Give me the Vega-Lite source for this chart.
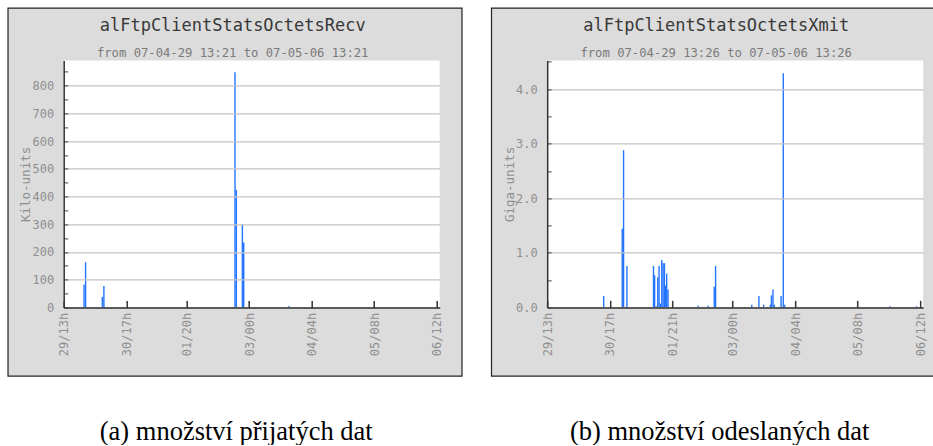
{
  "$schema": "https://vega.github.io/schema/vega-lite/v6.json",
  "background": "white",
  "padding": {"left": 6.7, "top": 7.4, "right": 0, "bottom": 0},
  "spacing": 27.5,
  "config": {"view": {"stroke": null}},
  "datasets": {
    "recv": [
      {"t": "2007-04-29T22:06:00Z", "v": 83},
      {"t": "2007-04-29T22:48:00Z", "v": 163},
      {"t": "2007-04-30T06:18:00Z", "v": 38},
      {"t": "2007-04-30T07:00:00Z", "v": 77},
      {"t": "2007-05-02T17:42:00Z", "v": 848},
      {"t": "2007-05-02T18:18:00Z", "v": 424},
      {"t": "2007-05-02T21:00:00Z", "v": 300},
      {"t": "2007-05-02T21:36:00Z", "v": 234},
      {"t": "2007-05-03T17:54:00Z", "v": 5}
    ],
    "xmit": [
      {"t": "2007-04-30T14:18:00Z", "v": 0.21},
      {"t": "2007-04-30T22:36:00Z", "v": 1.44},
      {"t": "2007-04-30T23:12:00Z", "v": 2.88},
      {"t": "2007-05-01T00:42:00Z", "v": 0.76},
      {"t": "2007-05-01T12:36:00Z", "v": 0.76},
      {"t": "2007-05-01T13:06:00Z", "v": 0.59},
      {"t": "2007-05-01T13:48:00Z", "v": 0.02},
      {"t": "2007-05-01T14:30:00Z", "v": 0.55},
      {"t": "2007-05-01T15:06:00Z", "v": 0.76},
      {"t": "2007-05-01T15:42:00Z", "v": 0.07},
      {"t": "2007-05-01T16:18:00Z", "v": 0.87},
      {"t": "2007-05-01T16:54:00Z", "v": 0.81},
      {"t": "2007-05-01T17:30:00Z", "v": 0.81},
      {"t": "2007-05-01T17:54:00Z", "v": 0.40},
      {"t": "2007-05-01T18:30:00Z", "v": 0.62},
      {"t": "2007-05-01T19:06:00Z", "v": 0.33},
      {"t": "2007-05-02T08:36:00Z", "v": 0.03},
      {"t": "2007-05-02T13:06:00Z", "v": 0.03},
      {"t": "2007-05-02T15:48:00Z", "v": 0.38},
      {"t": "2007-05-02T16:24:00Z", "v": 0.76},
      {"t": "2007-05-03T08:36:00Z", "v": 0.05},
      {"t": "2007-05-03T11:48:00Z", "v": 0.21},
      {"t": "2007-05-03T13:54:00Z", "v": 0.05},
      {"t": "2007-05-03T16:54:00Z", "v": 0.05},
      {"t": "2007-05-03T17:24:00Z", "v": 0.22},
      {"t": "2007-05-03T18:06:00Z", "v": 0.33},
      {"t": "2007-05-03T18:42:00Z", "v": 0.05},
      {"t": "2007-05-03T21:42:00Z", "v": 0.21},
      {"t": "2007-05-03T22:42:00Z", "v": 4.29},
      {"t": "2007-05-03T23:18:00Z", "v": 0.05},
      {"t": "2007-05-05T22:24:00Z", "v": 0.02},
      {"t": "2007-05-06T10:24:00Z", "v": 0.02}
    ]
  },
  "hconcat": [
    {
      "width": 376,
      "height": 247,
      "title": {
        "text": "alFtpClientStatsOctetsRecv",
        "subtitle": "from 07-04-29 13:21 to 07-05-06 13:21",
        "anchor": "middle", "frame": "group", "dx": -19, "offset": -52.7,
        "font": "DejaVu Sans Mono", "fontSize": 17, "fontWeight": "normal", "color": "#383838",
        "subtitleFont": "DejaVu Sans Mono", "subtitleFontSize": 12.2, "subtitleColor": "#7a7a7a",
        "subtitlePadding": 12, "zindex": 1
      },
      "layer": [
        {
          "data": {"values": [{}]},
          "mark": {"type": "rect", "fill": "#dcdcdc", "stroke": "#222222", "strokeWidth": 1.2},
          "encoding": {
            "x": {"datum": {"year": 2007, "month": 4, "date": 28, "hours": 12, "minutes": 4, "utc": true}, "type": "temporal", "scale": {"type": "utc"}},
            "x2": {"datum": {"year": 2007, "month": 5, "date": 6, "hours": 23, "minutes": 20, "utc": true}},
            "y": {"datum": -247.8, "type": "quantitative"},
            "y2": {"datum": 1079.7}
          }
        },
        {
          "data": {"values": [{}]},
          "mark": {"type": "rect", "fill": "white"},
          "encoding": {
            "x": {"datum": {"year": 2007, "month": 4, "date": 29, "hours": 13, "utc": true}, "type": "temporal", "scale": {"type": "utc"}},
            "x2": {"datum": {"year": 2007, "month": 5, "date": 6, "hours": 13, "minutes": 21, "utc": true}},
            "y": {"datum": 0, "type": "quantitative"},
            "y2": {"datum": 891}
          }
        },
        {
          "data": {"name": "recv"},
          "mark": {"type": "rule", "color": "#2474ff", "strokeWidth": 1.4},
          "encoding": {
            "x": {
              "field": "t", "type": "temporal",
              "scale": {"type": "utc", "domain": [
                {"year": 2007, "month": 4, "date": 29, "hours": 13, "utc": true},
                {"year": 2007, "month": 5, "date": 6, "hours": 13, "minutes": 21, "utc": true}
              ]},
              "axis": {
                "values": [
                  {"year": 2007, "month": 4, "date": 29, "hours": 13, "utc": true},
                  {"year": 2007, "month": 4, "date": 30, "hours": 17, "utc": true},
                  {"year": 2007, "month": 5, "date": 1, "hours": 20, "utc": true},
                  {"year": 2007, "month": 5, "date": 3, "hours": 0, "utc": true},
                  {"year": 2007, "month": 5, "date": 4, "hours": 4, "utc": true},
                  {"year": 2007, "month": 5, "date": 5, "hours": 8, "utc": true},
                  {"year": 2007, "month": 5, "date": 6, "hours": 12, "utc": true}
                ],
                "tickCount": 100,
                "labelExpr": "utcFormat(datum.value, '%d/%Hh')",
                "labelAngle": -90, "labelFlush": false, "labelOverlap": false,
                "labelFont": "DejaVu Sans Mono", "labelFontSize": 12, "labelColor": "#8f8f8f", "labelPadding": 12,
                "tickSize": -7, "tickColor": "#333333", "tickWidth": 1.5,
                "domainColor": "#333333", "domainWidth": 1.5, "grid": false,
                "title": "(a) množství přijatých dat",
                "titleFont": "Liberation Serif", "titleFontSize": 26.5, "titleFontWeight": "normal", "titleColor": "#000000",
                "titleX": 172, "titleY": 132, "titleBaseline": "alphabetic", "titleAlign": "center", "titleAngle": 0,
                "zindex": 1
              }
            },
            "y": {
              "field": "v", "type": "quantitative",
              "scale": {"domain": [0, 891], "nice": false, "zero": true},
              "axis": {
                "values": [0, 50, 100, 150, 200, 250, 300, 350, 400, 450, 500, 550, 600, 650, 700, 750, 800, 850],
                "tickCount": 100,
                "format": "d",
                "labelExpr": "datum.value % 100 === 0 ? datum.label : ''",
                "labelOverlap": false,
                "labelFont": "DejaVu Sans Mono", "labelFontSize": 12, "labelColor": "#8f8f8f", "labelPadding": 14,
                "tickSize": -4, "tickColor": "#444444", "tickWidth": 1,
                "domainColor": "#333333", "domainWidth": 1.5,
                "grid": true, "gridColor": "#c4c4c4", "gridWidth": 1.3,
                "gridOpacity": {"condition": {"test": "datum.value % 100 === 0", "value": 1}, "value": 0},
                "title": "Kilo-units",
                "titleFont": "DejaVu Sans Mono", "titleFontSize": 12.5, "titleFontWeight": "normal", "titleColor": "#8f8f8f",
                "titleX": -38, "titleY": 123.5, "titleAngle": -90, "titleAlign": "center", "titleBaseline": "middle",
                "zindex": 1
              }
            },
            "y2": {"datum": 0}
          }
        }
      ]
    },
    {
      "width": 376,
      "height": 247,
      "title": {
        "text": "alFtpClientStatsOctetsXmit",
        "subtitle": "from 07-04-29 13:26 to 07-05-06 13:26",
        "anchor": "middle", "frame": "group", "dx": -19, "offset": -52.7,
        "font": "DejaVu Sans Mono", "fontSize": 17, "fontWeight": "normal", "color": "#383838",
        "subtitleFont": "DejaVu Sans Mono", "subtitleFontSize": 12.2, "subtitleColor": "#7a7a7a",
        "subtitlePadding": 12, "zindex": 1
      },
      "layer": [
        {
          "data": {"values": [{}]},
          "mark": {"type": "rect", "fill": "#dcdcdc", "stroke": "#222222", "strokeWidth": 1.2},
          "encoding": {
            "x": {"datum": {"year": 2007, "month": 4, "date": 28, "hours": 12, "minutes": 4, "utc": true}, "type": "temporal", "scale": {"type": "utc"}},
            "x2": {"datum": {"year": 2007, "month": 5, "date": 6, "hours": 18, "minutes": 38, "utc": true}},
            "y": {"datum": -1.2586, "type": "quantitative"},
            "y2": {"datum": 5.483}
          }
        },
        {
          "data": {"values": [{}]},
          "mark": {"type": "rect", "fill": "white"},
          "encoding": {
            "x": {"datum": {"year": 2007, "month": 4, "date": 29, "hours": 13, "utc": true}, "type": "temporal", "scale": {"type": "utc"}},
            "x2": {"datum": {"year": 2007, "month": 5, "date": 6, "hours": 13, "minutes": 21, "utc": true}},
            "y": {"datum": 0, "type": "quantitative"},
            "y2": {"datum": 4.525}
          }
        },
        {
          "data": {"name": "xmit"},
          "mark": {"type": "rule", "color": "#2474ff", "strokeWidth": 1.4},
          "encoding": {
            "x": {
              "field": "t", "type": "temporal",
              "scale": {"type": "utc", "domain": [
                {"year": 2007, "month": 4, "date": 29, "hours": 13, "utc": true},
                {"year": 2007, "month": 5, "date": 6, "hours": 13, "minutes": 21, "utc": true}
              ]},
              "axis": {
                "values": [
                  {"year": 2007, "month": 4, "date": 29, "hours": 13, "utc": true},
                  {"year": 2007, "month": 4, "date": 30, "hours": 17, "utc": true},
                  {"year": 2007, "month": 5, "date": 1, "hours": 21, "utc": true},
                  {"year": 2007, "month": 5, "date": 3, "hours": 0, "utc": true},
                  {"year": 2007, "month": 5, "date": 4, "hours": 4, "utc": true},
                  {"year": 2007, "month": 5, "date": 5, "hours": 8, "utc": true},
                  {"year": 2007, "month": 5, "date": 6, "hours": 12, "utc": true}
                ],
                "tickCount": 100,
                "labelExpr": "utcFormat(datum.value, '%d/%Hh')",
                "labelAngle": -90, "labelFlush": false, "labelOverlap": false,
                "labelFont": "DejaVu Sans Mono", "labelFontSize": 12, "labelColor": "#8f8f8f", "labelPadding": 12,
                "tickSize": -7, "tickColor": "#333333", "tickWidth": 1.5,
                "domainColor": "#333333", "domainWidth": 1.5, "grid": false,
                "title": "(b) množství odeslaných dat",
                "titleFont": "Liberation Serif", "titleFontSize": 26.5, "titleFontWeight": "normal", "titleColor": "#000000",
                "titleX": 172, "titleY": 132, "titleBaseline": "alphabetic", "titleAlign": "center", "titleAngle": 0,
                "zindex": 1
              }
            },
            "y": {
              "field": "v", "type": "quantitative",
              "scale": {"domain": [0, 4.525], "nice": false, "zero": true},
              "axis": {
                "values": [0, 0.5, 1, 1.5, 2, 2.5, 3, 3.5, 4, 4.5],
                "tickCount": 100,
                "format": ".1f",
                "labelExpr": "datum.value % 1 === 0 ? datum.label : ''",
                "labelOverlap": false,
                "labelFont": "DejaVu Sans Mono", "labelFontSize": 12, "labelColor": "#8f8f8f", "labelPadding": 14,
                "tickSize": -4, "tickColor": "#444444", "tickWidth": 1,
                "domainColor": "#333333", "domainWidth": 1.5,
                "grid": true, "gridColor": "#c4c4c4", "gridWidth": 1.3,
                "gridOpacity": {"condition": {"test": "datum.value % 1 === 0", "value": 1}, "value": 0},
                "title": "Giga-units",
                "titleFont": "DejaVu Sans Mono", "titleFontSize": 12.5, "titleFontWeight": "normal", "titleColor": "#8f8f8f",
                "titleX": -38, "titleY": 123.5, "titleAngle": -90, "titleAlign": "center", "titleBaseline": "middle",
                "zindex": 1
              }
            },
            "y2": {"datum": 0}
          }
        }
      ]
    }
  ]
}
